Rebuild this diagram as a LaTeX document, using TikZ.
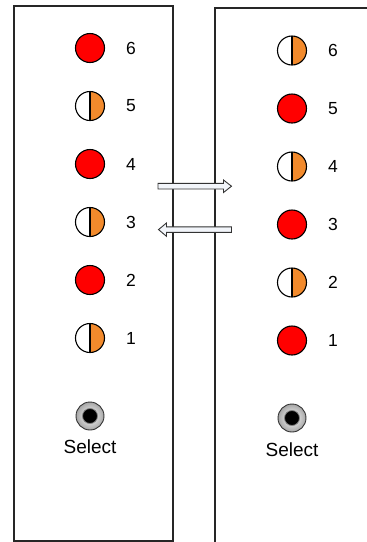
\documentclass[tikz,border=0pt]{standalone}
\usepackage{fontspec}
\setmainfont{Liberation Sans}
\definecolor{ledred}{HTML}{FF0000}
\definecolor{ledorange}{HTML}{F28A2C}
\definecolor{arrowfill}{HTML}{F2F5FA}
\begin{document}
\begin{tikzpicture}[x=1pt,y=-1pt,
  panel/.style={draw=black!85,line width=1.1pt},
  redled/.style={circle,draw=black,line width=1.1pt,fill=ledred,minimum size=29pt,inner sep=0pt},
  halfled/.style={circle,draw=black,line width=1.1pt,minimum size=29pt,inner sep=0pt,
    path picture={\fill[ledorange] (path picture bounding box.north) rectangle (path picture bounding box.south east);
    \draw[line width=1.1pt] (path picture bounding box.north) -- (path picture bounding box.south);}},
  lbl/.style={font=\fontsize{17.5}{20}\selectfont,inner sep=0pt},
  sel/.style={font=\fontsize{19}{22}\selectfont,inner sep=0pt},
  btn/.style={circle,draw=black!80,line width=0.9pt,minimum size=28pt,inner sep=0pt,inner color=white,outer color=black!35},
  btncore/.style={circle,fill=black,draw=black!50,line width=0.8pt,minimum size=15pt,inner sep=0pt},
  flow/.style={draw=black!80,line width=0.9pt,fill=arrowfill,line join=miter}]
\useasboundingbox (0,0) rectangle (367,542);
% panels
\draw[panel] (14,541) -- (14,6) -- (173,6) -- (173,541) -- cycle;
\draw[panel] (215,545) -- (215,8) -- (370,8);
% left LEDs
\foreach \n/\y/\s in {6/48/redled,5/106/halfled,4/164/redled,3/222/halfled,2/280/redled,1/338/halfled}{
  \node[\s] (L\n) at (90,\y) {};
  \node[lbl] (Ll\n) at (131,\y) {\n};
}
% right LEDs
\foreach \n/\y/\s in {6/50.5/halfled,5/108.5/redled,4/166.5/halfled,3/224.5/redled,2/282.5/halfled,1/340.5/redled}{
  \node[\s] (R\n) at (292,\y) {};
  \node[lbl] (Rl\n) at (333,\y) {\n};
}
% select buttons
\node[btn] (LB) at (90,416) {};
\node[btncore] (LBc) at (90,416) {};
\node[sel] (LS) at (90,447) {Select};
\node[btn] (RB) at (292,418) {};
\node[btncore] (RBc) at (292,418) {};
\node[sel] (RS) at (292,450) {Select};
% arrows
\draw[flow] (158,183.3) -- (223.5,183.3) -- (223.5,180) -- (231.5,186.2) -- (223.5,192.5) -- (223.5,189) -- (158,189) -- cycle;
\draw[flow] (231.5,226.8) -- (166.5,226.8) -- (166.5,223) -- (158.5,229.6) -- (166.5,236.3) -- (166.5,232.4) -- (231.5,232.4) -- cycle;
\end{tikzpicture}
\end{document}
